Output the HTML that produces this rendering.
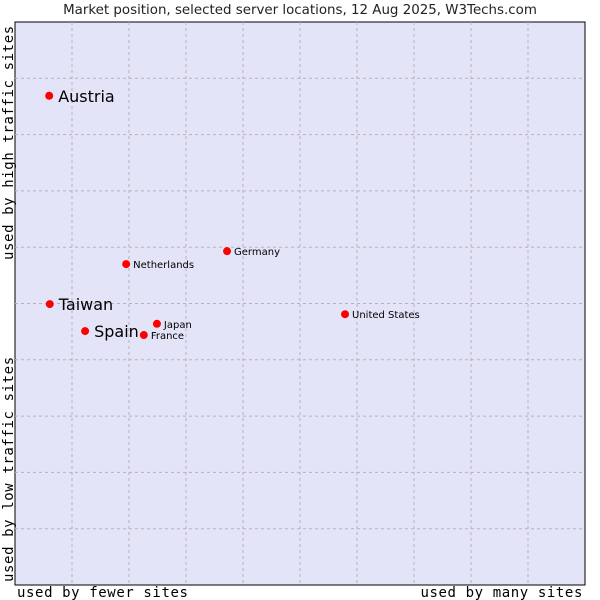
<!DOCTYPE html>
<html><head><meta charset="utf-8"><style>
body{margin:0;background:#fff;width:600px;height:600px;overflow:hidden}
svg{display:block}
</style></head><body>
<svg id="chart" width="600" height="600">
<text x="300" y="14" text-anchor="middle" font-family="DejaVu Sans, sans-serif" font-size="13.4" fill="#222">Market position, selected server locations, 12 Aug 2025, W3Techs.com</text>
<rect x="15" y="22" width="570" height="563" fill="#e4e4f8" stroke="#000" stroke-width="1"/>
<g id="grid"></g>
<g id="marks"></g>
<text x="17" y="597" font-family="DejaVu Sans Mono, monospace" font-size="14" letter-spacing="0.6" fill="#000">used by fewer sites</text>
<text x="583" y="597" text-anchor="end" font-family="DejaVu Sans Mono, monospace" font-size="14" letter-spacing="0.6" fill="#000">used by many sites</text>
<text transform="translate(13,582) rotate(-90)" font-family="DejaVu Sans Mono, monospace" font-size="14" letter-spacing="0.6" fill="#000">used by low traffic sites</text>
<text transform="translate(13,260) rotate(-90)" font-family="DejaVu Sans Mono, monospace" font-size="14" letter-spacing="0.6" fill="#000">used by high traffic sites</text>
</svg>
<script>
const names=["Austria","Taiwan","Spain","Netherlands","Germany","Japan","France","United States"];
const xs=[6.0,6.1,12.3,19.5,37.2,24.9,22.6,57.9];
const ys=[86.9,49.9,45.1,57.0,59.3,46.4,44.4,48.1];
const big=[1,1,1,0,0,0,0,0];
const L=15,T=22,W=570,H=563;
const sx=v=>L+v/100*W, sy=v=>T+H-v/100*H;
const NS="http://www.w3.org/2000/svg";
const g=document.getElementById('grid');
for(let i=1;i<10;i++){
  const a=document.createElementNS(NS,'line');
  a.setAttribute('x1',sx(i*10));a.setAttribute('x2',sx(i*10));a.setAttribute('y1',T);a.setAttribute('y2',T+H);
  a.setAttribute('stroke','#b4b4b4');a.setAttribute('stroke-dasharray','3,3');
  
  
  g.appendChild(a);
  const b=document.createElementNS(NS,'line');
  b.setAttribute('y1',sy(i*10));b.setAttribute('y2',sy(i*10));b.setAttribute('x1',L);b.setAttribute('x2',L+W);
  b.setAttribute('stroke','#b4b4b4');b.setAttribute('stroke-dasharray','3,3');
  
  
  g.appendChild(b);
}
const m=document.getElementById('marks');
names.forEach((n,i)=>{
  const x=sx(xs[i]),y=sy(ys[i]);
  const c=document.createElementNS(NS,'circle');
  c.setAttribute('cx',x);c.setAttribute('cy',y);c.setAttribute('r',4);c.setAttribute('fill','#f00');
  
  
  m.appendChild(c);
  const t=document.createElementNS(NS,'text');
  t.setAttribute('x',x+(big[i]?9:7));t.setAttribute('y',y+(big[i]?6:4));
  t.setAttribute('font-family','DejaVu Sans, sans-serif');
  t.setAttribute('font-size',big[i]?16:10);t.setAttribute('fill','#000');
  t.textContent=n;
  
  
  m.appendChild(t);
});
</script>
</body></html>
